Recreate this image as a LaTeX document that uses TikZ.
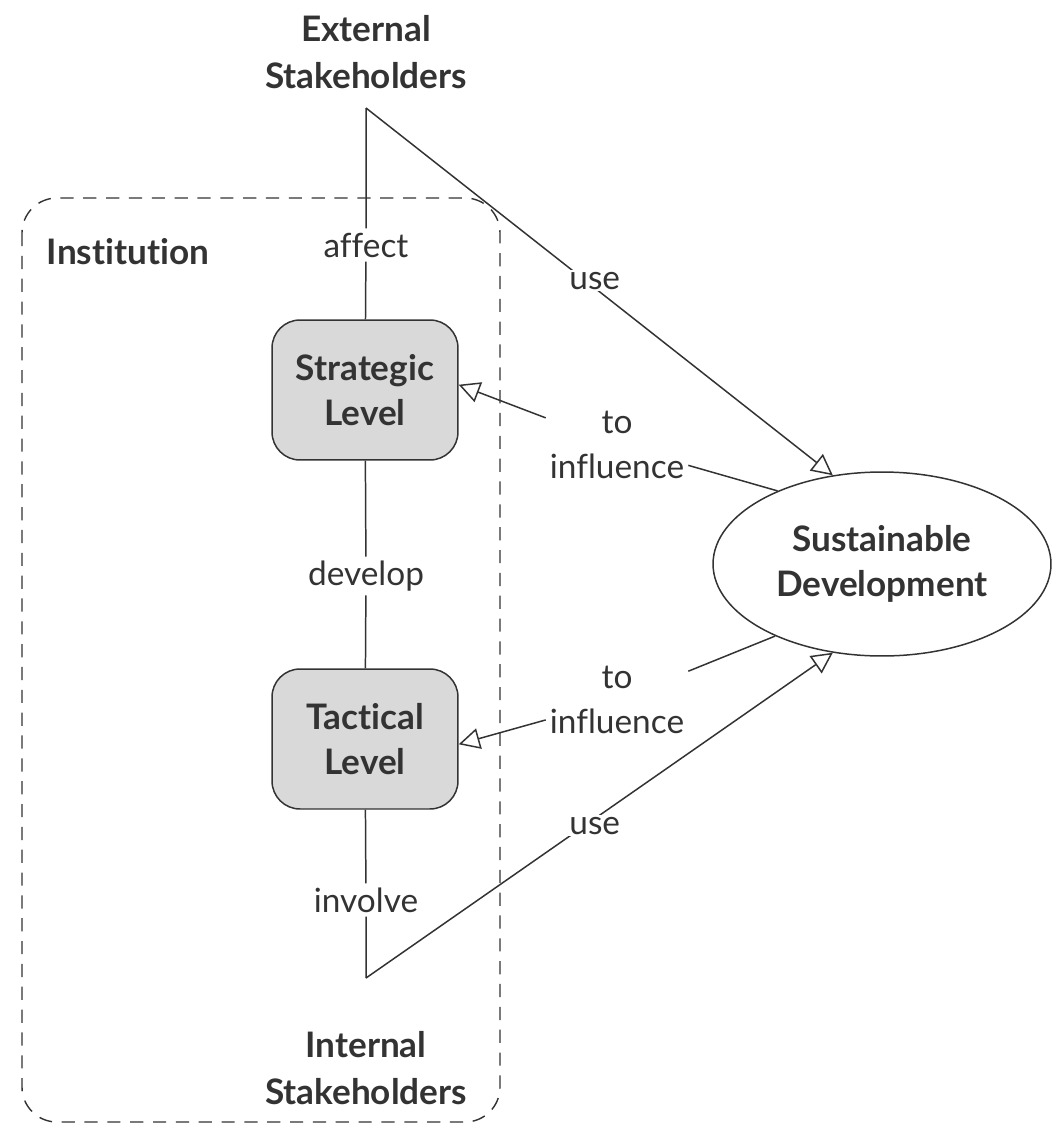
\documentclass[tikz,border=0pt]{standalone}
\usepackage{fontspec}
\setmainfont{Lato}[Ligatures = NoCommon]
\usetikzlibrary{arrows.meta,shapes.geometric}
\definecolor{ink}{HTML}{333333}
\definecolor{boxgray}{HTML}{D9D9D9}

\begin{document}
\begin{tikzpicture}[x = 0.02cm, y = -0.02cm, line width = 0.85pt, color = ink,
        every node/.style = {font = \fontsize{19}{26}\selectfont, align = center, inner sep = 2pt},
        head/.style = {font = \bfseries\fontsize{20}{26.5}\selectfont},
        level/.style = {draw, fill = boxgray, rounded corners = 0.56cm, minimum width = 3.72cm,
                minimum height = 2.8cm, font = \bfseries\fontsize{20}{26}\selectfont},
        goal/.style = {draw, ellipse, minimum width = 6.76cm, minimum height = 3.68cm, inner sep = 0pt,
                font = \bfseries\fontsize{20}{26}\selectfont},
        verb/.style = {fill = white, inner sep = 1pt},
        open/.style = {-{Triangle[open, length = 0.42cm, width = 0.42cm]}},
        frame/.style = {dashed, dash pattern = on 7.5pt off 5.5pt, line width = 0.8pt, rounded corners = 0.7cm}]
        \useasboundingbox (0, 0) rectangle (1053, 1126);

        \draw[frame] (22, 198) rectangle (500, 1122);
        \node[head] (inst) at (128, 252) {Institution};

        \node[head] (ext) at (366, 52) {External\\Stakeholders};
        \coordinate (top) at (366, 108);
        \node (affect) at (366, 245) {affect};
        \node[level] (strat) at (365, 390) {Strategic\\Level};
        \node (develop) at (366, 576) {develop};
        \node[level] (tact) at (365, 739) {Tactical\\Level};
        \node (involve) at (366, 900) {involve};
        \coordinate (bot) at (366, 978);
        \node[head] (int) at (366, 1068) {Internal\\Stakeholders};

        \node[goal] (sd) at (882, 564) {Sustainable\\Development};
        \node (inflA) at (617, 445) {to\\influence};
        \node (inflB) at (617, 700) {to\\influence};

        \draw (top) -- (affect) -- (strat);
        \draw (strat) -- (develop) -- (tact);
        \draw (tact) -- (involve) -- (bot);

        \draw[open] (top) -- node[verb, pos = 0.49, yshift = 4pt] {use} (sd.119);
        \draw[open] (bot) -- node[verb, pos = 0.49, yshift = -4pt] {use} (sd.241);

        \draw (sd.145) -- (inflA);
        \draw[open] (inflA) -- ([yshift = 3pt]strat.east);
        \draw (sd.214) -- (inflB);
        \draw[open] (inflB) -- ([yshift = -3pt]tact.east);
    \end{tikzpicture}
\end{document}
